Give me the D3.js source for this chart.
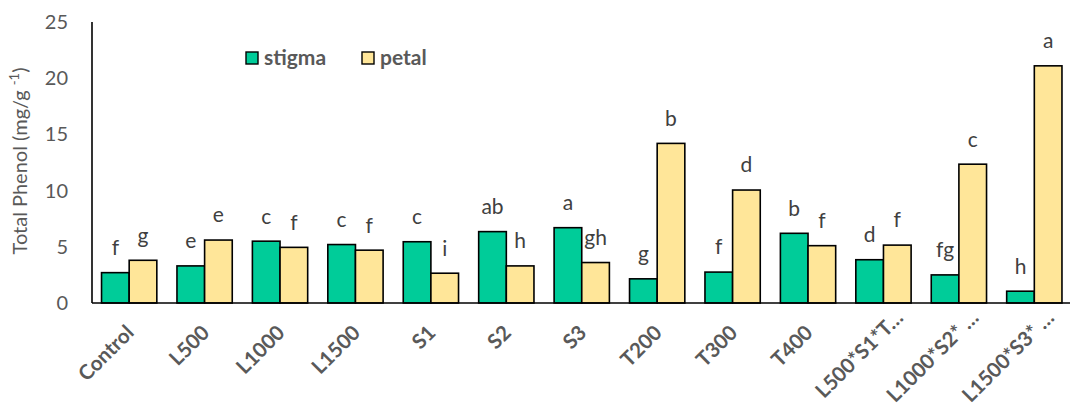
<!DOCTYPE html>
<html>
<head>
<meta charset="utf-8">
<script src="https://cdn.jsdelivr.net/npm/d3@7"></script>
<style>
  html, body { margin: 0; padding: 0; background: #fff; }
  svg { display: block; font-family: Lato, "Open Sans", sans-serif; }
</style>
</head>
<body>
<svg id="chart" width="1070" height="405"></svg>
<script>
// Treatments along the x axis
const categories = ["Control", "L500", "L1000", "L1500", "S1", "S2", "S3",
  "T200", "T300", "T400", "L500*S1*T…", "L1000*S2* …", "L1500*S3* …"];

// Total phenol (mg/g-1) per tissue
const stigma = [2.7, 3.3, 5.5, 5.2, 5.45, 6.35, 6.7, 2.15, 2.75, 6.2, 3.85, 2.5, 1.05];
const petal  = [3.8, 5.6, 4.95, 4.7, 2.65, 3.3, 3.6, 14.2, 10.05, 5.1, 5.15, 12.35, 21.1];

// Significance letters shown above each bar
const stigmaLetters = ["f", "e", "c", "c", "c", "ab", "a", "g", "f", "b", "d", "fg", "h"];
const petalLetters  = ["g", "e", "f", "f", "i", "h", "gh", "b", "d", "f", "f", "c", "a"];

const seriesNames = ["stigma", "petal"];
const yTicks = [0, 5, 10, 15, 20, 25];

const colors = { stigma: "#00CC99", petal: "#FFE699" };

const svg = d3.select("#chart");
const y0 = 303, y1 = 22;

const x = d3.scaleBand().domain(categories).range([91.5, 1072])
  .paddingInner(0.267).paddingOuter(0.133);
const xs = d3.scaleBand().domain(seriesNames).range([0, x.bandwidth()]);
const y = d3.scaleLinear().domain([0, 25]).range([y0, y1]);

const rows = categories.map((c, i) => ({
  cat: c,
  values: [
    { key: "stigma", v: stigma[i], letter: stigmaLetters[i] },
    { key: "petal", v: petal[i], letter: petalLetters[i] }
  ]
}));

// Y tick labels
svg.append("g").selectAll("text").data(yTicks).join("text")
  .attr("x", 68).attr("y", d => y(d)).attr("dy", "0.35em")
  .attr("text-anchor", "end")
  .attr("font-size", 20).attr("fill", "#595959")
  .text(d => d);

// Y axis title with superscript
const yt = svg.append("text")
  .attr("transform", `translate(27,161) rotate(-90)`)
  .attr("text-anchor", "middle")
  .attr("font-size", 20).attr("fill", "#595959");
yt.append("tspan").text("Total Phenol (mg/g ");
yt.append("tspan").attr("font-size", 13).attr("dy", -8).text("-1");
yt.append("tspan").attr("dy", 8).text(")");

// Bars
const groups = svg.append("g").selectAll("g").data(rows).join("g")
  .attr("transform", d => `translate(${x(d.cat)},0)`);

groups.selectAll("rect").data(d => d.values).join("rect")
  .attr("x", d => xs(d.key))
  .attr("y", d => y(d.v))
  .attr("width", xs.bandwidth())
  .attr("height", d => y(0) - y(d.v))
  .attr("fill", d => colors[d.key])
  .attr("stroke", "#000").attr("stroke-width", 1.6);

// Letter labels
groups.selectAll("text").data(d => d.values).join("text")
  .attr("x", d => xs(d.key) + xs.bandwidth() / 2)
  .attr("y", d => y(d.v) - 25).attr("dy", "0.35em")
  .attr("text-anchor", "middle")
  .attr("font-size", 21).attr("fill", "#404040")
  .text(d => d.letter);

// Axis lines
svg.append("line").attr("x1", 92).attr("x2", 92).attr("y1", y1).attr("y2", y0)
  .attr("stroke", "#000").attr("stroke-width", 1.6);
svg.append("line").attr("x1", 92).attr("x2", 1070).attr("y1", y0).attr("y2", y0)
  .attr("stroke", "#000").attr("stroke-width", 1.6);

// Rotated category labels; shortened names sit further up the diagonal
svg.append("g").selectAll("text").data(categories).join("text")
  .attr("transform", d => {
    const s = d.includes("…") ? 15 : 0;
    return `translate(${x(d) + x.bandwidth() / 2 + 6 + s},${y0 + 31 - s}) rotate(-45)`;
  })
  .attr("text-anchor", "end")
  .attr("font-size", 20.5).attr("font-weight", "bold").attr("fill", "#595959")
  .text(d => d);

// Legend
const legend = svg.append("g").selectAll("g").data(seriesNames).join("g")
  .attr("transform", (d, i) => `translate(${246 + i * 116},52)`);
legend.append("rect").attr("width", 12).attr("height", 12)
  .attr("fill", d => colors[d]).attr("stroke", "#000").attr("stroke-width", 1.4);
legend.append("text").attr("x", 18).attr("y", 6).attr("dy", "0.35em")
  .attr("font-size", 21).attr("font-weight", "bold").attr("fill", "#595959")
  .text(d => d);
</script>
</body>
</html>
